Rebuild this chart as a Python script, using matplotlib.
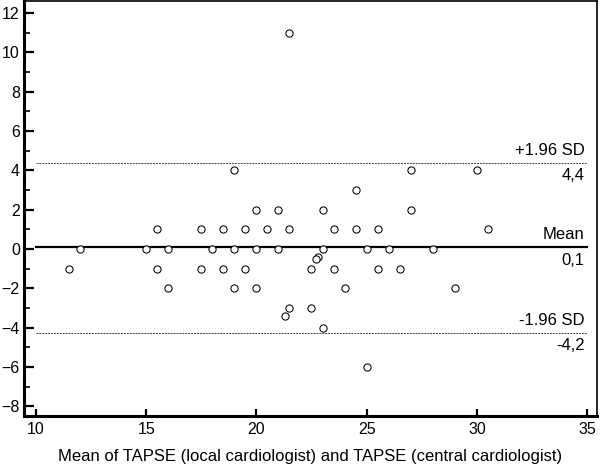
import matplotlib
matplotlib.use("Agg")
import matplotlib.pyplot as plt
from matplotlib.ticker import MultipleLocator

plt.rcParams['font.family'] = ['Liberation Sans', 'DejaVu Sans']

# Data: mean of the two TAPSE readings and their difference
mean_vals = [11.5, 12, 15, 15.5, 15.5, 16, 16, 17.5, 17.5, 18, 18.5, 18.5,
             19, 19, 19, 19.5, 19.5, 20, 20, 20, 20.5, 21, 21, 21.5, 21.5, 21.3,
             21.5, 22.5, 22.5, 22.8, 22.7, 23, 23, 23, 23.5, 23.5, 24, 24.5, 24.5,
             25, 25, 25.5, 25.5, 26, 26.5, 27, 27, 28, 29, 30, 30.5]
diff_vals = [-1, 0, 0, 1, -1, 0, -2, 1, -1, 0, 1, -1,
             4, 0, -2, 1, -1, 2, 0, -2, 1, 2, 0, 1, -3, -3.4,
             11, -1, -3, -0.4, -0.5, 2, 0, -4, 1, -1, -2, 3, 1,
             0, -6, 1, -1, 0, -1, 4, 2, 0, -2, 4, 1]

mean_diff = 0.1
upper_loa = 4.4
lower_loa = -4.25
line_labels_top = ["+1.96 SD", "Mean", "-1.96 SD"]
line_labels_val = ["4,4", "0,1", "-4,2"]
xlabel = "Mean of TAPSE (local cardiologist) and TAPSE (central cardiologist)"

fig = plt.figure(figsize=(6.0, 4.66), dpi=100)
ax = fig.add_axes([0.040, 0.107, 0.955, 0.891])

ax.set_xlim(9.46, 35.45)
ax.set_ylim(-8.5, 12.62)

ax.plot(mean_vals, diff_vals, linestyle='none', marker='o', markersize=5.2,
        markerfacecolor='white', markeredgecolor='black', markeredgewidth=0.75,
        zorder=3)

ax.plot([10, 35], [mean_diff, mean_diff], color='black', lw=1.6, zorder=2)
for yv in (upper_loa, lower_loa):
    ax.plot([10, 35], [yv, yv], color='#444444', lw=0.7, dashes=(2, 1), zorder=2)

xt = 34.9
for yv, top, val in zip([upper_loa, mean_diff, lower_loa], line_labels_top, line_labels_val):
    ax.text(xt, yv + 0.25, top, ha='right', va='bottom', fontsize=12)
    ax.text(xt, yv - 0.3, val, ha='right', va='top', fontsize=12)

ax.xaxis.set_major_locator(MultipleLocator(5))
ax.yaxis.set_major_locator(MultipleLocator(2))
ax.yaxis.set_minor_locator(MultipleLocator(1))
ax.tick_params(axis='x', which='major', direction='in', length=5, width=1.6,
               labelsize=11.5, pad=4)
ax.tick_params(axis='y', which='major', direction='in', length=7, width=1.6,
               labelsize=11.5, pad=3)
ax.tick_params(axis='y', which='minor', direction='in', length=4, width=1.2)

for s in ('left', 'bottom'):
    ax.spines[s].set_linewidth(2.2)
for s in ('top', 'right'):
    ax.spines[s].set_linewidth(1.2)

ax.set_xlabel(xlabel, fontsize=12, labelpad=9)

fig.savefig("out.png", dpi=100)
